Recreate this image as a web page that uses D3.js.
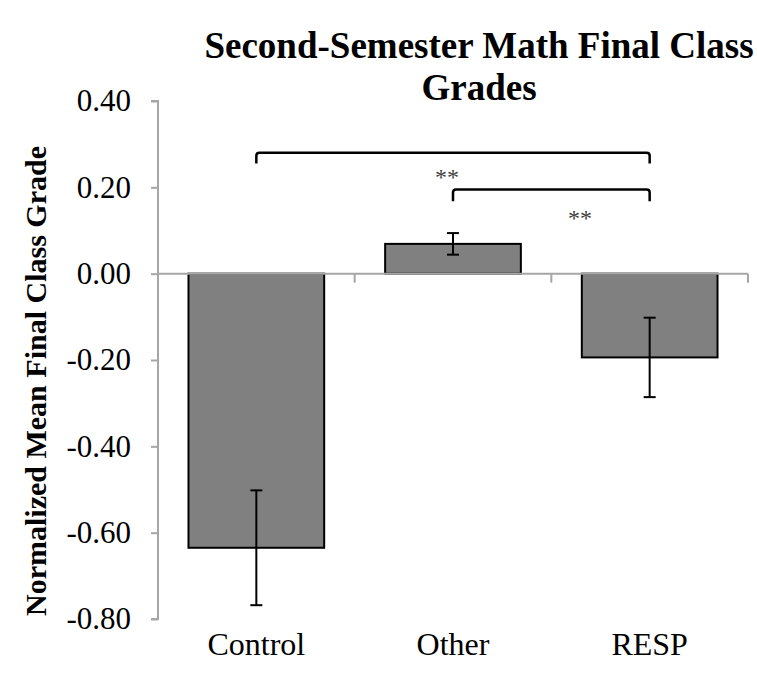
<!DOCTYPE html>
<html>
<head>
<meta charset="utf-8">
<script src="https://cdn.jsdelivr.net/npm/d3@7"></script>
<style>
  body { margin: 0; background: #fff; }
</style>
</head>
<body>
<div id="wrapper"></div>
<script>
// data
const categories = ["Control", "Other", "RESP"]
const means = [-0.635, 0.069, -0.194]
const errors = [0.133, 0.025, 0.092]
const yTicks = [0.4, 0.2, 0, -0.2, -0.4, -0.6, -0.8]

// significance brackets: from/to category, bar height, leg end, label pos
const bracketFrom = ["Control", "Other"]
const bracketTo = ["RESP", "RESP"]
const bracketTop = [0.28, 0.195]
const bracketLeg = [0.255, 0.168]
const bracketLabel = ["**", "**"]
const labelAlong = [0.485, 0.646]
const labelValue = [0.236, 0.142]

const dimensions = {
  width: 757,
  height: 673,
  margin: { top: 101, right: 9, bottom: 54, left: 158 },
}
dimensions.boundedWidth = dimensions.width - dimensions.margin.left - dimensions.margin.right
dimensions.boundedHeight = dimensions.height - dimensions.margin.top - dimensions.margin.bottom

const serif = "'Liberation Serif', 'Times New Roman', Times, serif"

const svg = d3.select("#wrapper")
  .append("svg")
  .attr("width", dimensions.width)
  .attr("height", dimensions.height)
  .style("font-family", serif)

const bounds = svg.append("g")
  .attr("transform", `translate(${dimensions.margin.left},${dimensions.margin.top})`)

const xScale = d3.scaleBand()
  .domain(categories)
  .range([0, dimensions.boundedWidth])
  .paddingInner(0.31)
  .paddingOuter(0.155)

const yScale = d3.scaleLinear()
  .domain([-0.8, 0.4])
  .range([dimensions.boundedHeight, 0])

const axisColor = "#a6a6a6"

// y axis
const yAxis = bounds.append("g")
  .call(d3.axisLeft(yScale).tickValues(yTicks).tickSize(7).tickPadding(20))
yAxis.select(".domain").attr("stroke", axisColor).attr("stroke-width", 2).attr("d", `M-7,0H0V${dimensions.boundedHeight}H-7`)
yAxis.selectAll(".tick line").attr("stroke", axisColor).attr("stroke-width", 2)
yAxis.selectAll(".tick text")
  .style("font-family", serif)
  .style("font-size", "31px")
  .attr("fill", "#000")
  .text(d => d < 0 ? "-" + Math.abs(d).toFixed(2) : d.toFixed(2))

// bars
const data = categories.map((c, i) => ({ cat: c, mean: means[i], err: errors[i] }))

bounds.selectAll(".bar")
  .data(data)
  .join("rect")
  .attr("class", "bar")
  .attr("x", d => xScale(d.cat))
  .attr("width", xScale.bandwidth())
  .attr("y", d => yScale(Math.max(0, d.mean)))
  .attr("height", d => Math.abs(yScale(d.mean) - yScale(0)))
  .attr("fill", "#808080")
  .attr("stroke", "#000")
  .attr("stroke-width", 2)

// zero line (category axis)
const x0 = yScale(0)
bounds.append("line")
  .attr("x1", 0).attr("x2", dimensions.boundedWidth)
  .attr("y1", x0).attr("y2", x0)
  .attr("stroke", axisColor).attr("stroke-width", 2)

const boundaries = categories.map(c => xScale(c) + xScale.bandwidth() + xScale.step() * xScale.paddingInner() / 2)
bounds.selectAll(".cat-tick")
  .data(boundaries)
  .join("line")
  .attr("class", "cat-tick")
  .attr("x1", d => d).attr("x2", d => d)
  .attr("y1", x0).attr("y2", x0 + 9)
  .attr("stroke", axisColor).attr("stroke-width", 2)

// error bars
const cx = c => xScale(c) + xScale.bandwidth() / 2
const errG = bounds.selectAll(".err").data(data).join("g").attr("class", "err")
  .attr("stroke", "#000").attr("stroke-width", 2)
errG.append("line")
  .attr("x1", d => cx(d.cat)).attr("x2", d => cx(d.cat))
  .attr("y1", d => yScale(d.mean + d.err)).attr("y2", d => yScale(d.mean - d.err))
errG.selectAll(".cap")
  .data(d => [d.mean + d.err, d.mean - d.err].map(v => ({ cat: d.cat, v })))
  .join("line")
  .attr("x1", d => cx(d.cat) - 6).attr("x2", d => cx(d.cat) + 6)
  .attr("y1", d => yScale(d.v)).attr("y2", d => yScale(d.v))

// category labels
bounds.selectAll(".cat-label")
  .data(categories)
  .join("text")
  .attr("class", "cat-label")
  .attr("x", d => cx(d))
  .attr("y", dimensions.boundedHeight + 36)
  .attr("text-anchor", "middle")
  .style("font-size", "32px")
  .text(d => d)

// significance brackets
bracketFrom.forEach((from, i) => {
  const xa = cx(from), xb = cx(bracketTo[i])
  const yt = yScale(bracketTop[i]), yl = yScale(bracketLeg[i])
  const r = 3
  bounds.append("path")
    .attr("d", `M${xa},${yl}V${yt + r}Q${xa},${yt} ${xa + r},${yt}H${xb - r}Q${xb},${yt} ${xb},${yt + r}V${yl}`)
    .attr("fill", "none")
    .attr("stroke", "#000")
    .attr("stroke-width", 2.5)
  bounds.append("text")
    .attr("x", xa + labelAlong[i] * (xb - xa))
    .attr("y", yScale(labelValue[i]))
    .attr("dy", "0.55em")
    .attr("text-anchor", "middle")
    .attr("fill", "#404040")
    .style("font-size", "24px")
    .text(bracketLabel[i])
})

// title
const title = svg.append("text")
  .attr("text-anchor", "middle")
  .style("font-size", "37px")
  .style("font-weight", "bold")
title.append("tspan").attr("x", 479).attr("y", 58).text("Second-Semester Math Final Class")
title.append("tspan").attr("x", 479).attr("y", 100).text("Grades")

// y axis label
svg.append("text")
  .attr("transform", "translate(46,381) rotate(-90)")
  .attr("text-anchor", "middle")
  .style("font-size", "30px")
  .style("font-weight", "bold")
  .text("Normalized Mean Final Class Grade")
</script>
</body>
</html>
